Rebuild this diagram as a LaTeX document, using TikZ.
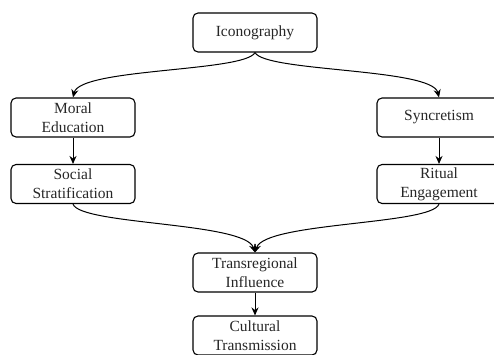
\documentclass[tikz,border=0pt]{standalone}
\usepackage{fontspec}
\setmainfont{Liberation Serif}
\usetikzlibrary{arrows.meta}
\begin{document}
\begin{tikzpicture}[x=1pt,y=1pt,
  box/.style={draw, line width=1.1pt, rounded corners=5pt, minimum width=124pt, minimum height=39pt, inner sep=0pt, align=center, font=\fontsize{15.5}{19}\selectfont, text=black!85},
  arr/.style={line width=1pt, -{Stealth[length=8pt,width=7pt]}}]
\useasboundingbox (0,0) rectangle (494,-354);
\node[box] (ico) at (255,-32.5) {Iconography};
\node[box] (moral) at (73,-117.5) {Moral\\Education};
\node[box] (syn) at (439,-117.5) {Syncretism};
\node[box] (soc) at (73,-184) {Social\\Stratification};
\node[box] (rit) at (439,-184) {Ritual\\Engagement};
\node[box] (trans) at (255,-272.5) {Transregional\\Influence};
\node[box] (cult) at (255,-335.5) {Cultural\\Transmission};
\draw[arr] (ico.south) .. controls (245,-72) and (80,-68) .. (moral.north);
\draw[arr] (ico.south) .. controls (265,-72) and (432,-68) .. (syn.north);
\draw[arr] (moral) -- (soc);
\draw[arr] (syn) -- (rit);
\draw[arr] (soc.south) .. controls (80,-225) and (245,-222) .. (trans.north);
\draw[arr] (rit.south) .. controls (432,-225) and (265,-222) .. (trans.north);
\draw[arr] (trans) -- (cult);
\end{tikzpicture}
\end{document}
